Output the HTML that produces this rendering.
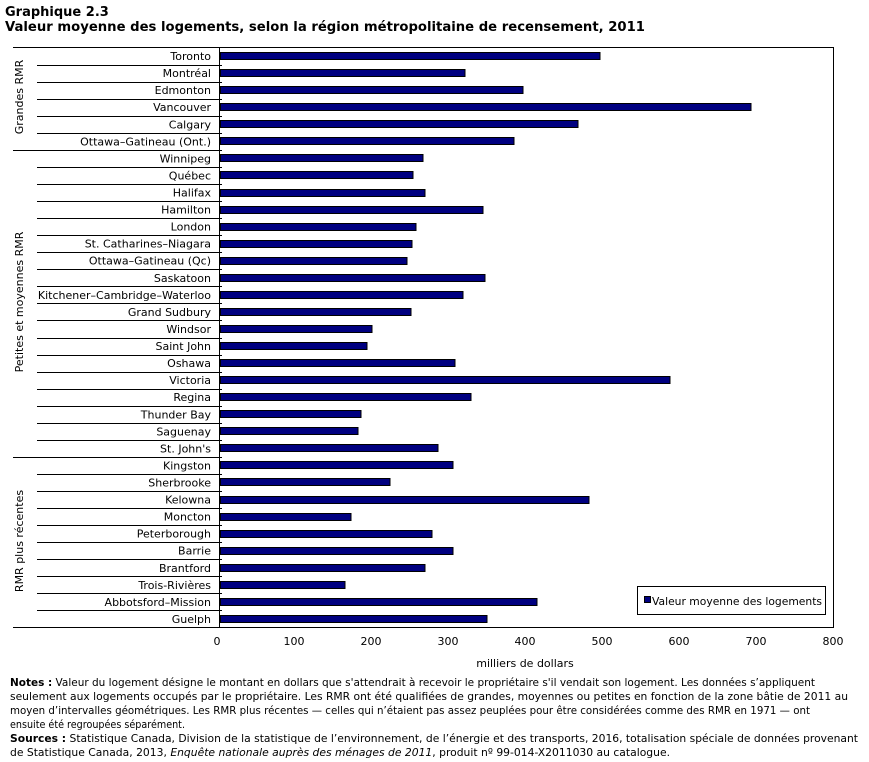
<!DOCTYPE html>
<html><head><meta charset="utf-8"><style>
html,body{margin:0;padding:0;background:#fff;}
svg{display:block;font-family:"DejaVu Sans","Liberation Sans",sans-serif;}
</style></head><body>
<svg width="869" height="762" viewBox="0 0 869 762" xmlns="http://www.w3.org/2000/svg">
<text x="5" y="16" font-size="13" font-weight="bold" fill="#000">Graphique  2.3</text>
<text x="5" y="31" font-size="13" font-weight="bold" fill="#000" textLength="640" lengthAdjust="spacingAndGlyphs">Valeur moyenne des logements, selon la région  métropolitaine  de recensement, 2011</text>
<g stroke="#000" stroke-width="1" fill="none">
<rect x="219.5" y="47.5" width="614" height="580"/>
<line x1="13" y1="47.5" x2="219" y2="47.5"/>
<line x1="13" y1="627.5" x2="219" y2="627.5"/>
<line x1="13" y1="150.5" x2="222" y2="150.5"/>
<line x1="13" y1="457.5" x2="222" y2="457.5"/>
</g>
<g id="rows" stroke="#000" stroke-width="1"></g>
<g id="bars"></g>
<g id="labels" font-size="11" text-anchor="end" fill="#000"></g>
<g font-size="11" fill="#000" text-anchor="middle">
<text transform="translate(23,97) rotate(-90)">Grandes RMR</text>
<text transform="translate(23,302) rotate(-90)">Petites et moyennes RMR</text>
<text transform="translate(23,541) rotate(-90)">RMR plus récentes</text>
<text x="217" y="645">0</text><text x="294" y="645">100</text><text x="371" y="645">200</text><text x="448" y="645">300</text><text x="525" y="645">400</text><text x="602" y="645">500</text><text x="679" y="645">600</text><text x="756" y="645">700</text><text x="833" y="645">800</text>
<text x="525" y="667">milliers de dollars</text>
</g>
<rect x="637.5" y="586.5" width="188" height="28" fill="#fff" stroke="#000"/>
<rect x="644.5" y="596.5" width="6" height="6" fill="#000080" stroke="#000"/>
<text x="652" y="605" font-size="11" fill="#000" textLength="170" lengthAdjust="spacingAndGlyphs">Valeur moyenne des logements</text>
<g font-size="11" fill="#000">
<text x="10" y="686" textLength="805" lengthAdjust="spacingAndGlyphs"><tspan font-weight="bold">Notes :</tspan> Valeur du logement désigne le montant en dollars que s'attendrait à recevoir le propriétaire s'il vendait son logement. Les données s’appliquent</text>
<text x="10" y="700" textLength="838" lengthAdjust="spacingAndGlyphs">seulement aux logements occupés par le propriétaire. Les RMR ont été qualifiées de grandes, moyennes ou petites en fonction de la zone bâtie de 2011 au</text>
<text x="10" y="714" textLength="800" lengthAdjust="spacingAndGlyphs">moyen d’intervalles géométriques. Les RMR plus récentes — celles qui n’étaient pas assez peuplées pour être considérées comme des RMR en 1971 — ont</text>
<text x="10" y="728" textLength="175" lengthAdjust="spacingAndGlyphs">ensuite été regroupées séparément.</text>
<text x="10" y="742" textLength="848" lengthAdjust="spacingAndGlyphs"><tspan font-weight="bold">Sources :</tspan> Statistique Canada, Division de la statistique de l’environnement, de l’énergie et des transports, 2016, totalisation spéciale de données provenant</text>
<text x="10" y="756" textLength="660" lengthAdjust="spacingAndGlyphs">de Statistique Canada, 2013, <tspan font-style="italic">Enquête nationale auprès des ménages de 2011</tspan>, produit nº 99-014-X2011030 au catalogue.</text>
</g>
<script>
var d=[["Toronto",600],["Montréal",465],["Edmonton",523],["Vancouver",751],["Calgary",578],["Ottawa–Gatineau (Ont.)",514],["Winnipeg",423],["Québec",413],["Halifax",425],["Hamilton",483],["London",416],["St. Catharines–Niagara",412],["Ottawa–Gatineau (Qc)",407],["Saskatoon",485],["Kitchener–Cambridge–Waterloo",463],["Grand Sudbury",411],["Windsor",372],["Saint John",367],["Oshawa",455],["Victoria",670],["Regina",471],["Thunder Bay",361],["Saguenay",358],["St. John's",438],["Kingston",453],["Sherbrooke",390],["Kelowna",589],["Moncton",351],["Peterborough",432],["Barrie",453],["Brantford",425],["Trois-Rivières",345],["Abbotsford–Mission",537],["Guelph",487]];
var NS="http://www.w3.org/2000/svg",h=580/34;
var R=document.getElementById("rows"),B=document.getElementById("bars"),L=document.getElementById("labels");
d.forEach(function(r,i){
 var top=47.5+i*h,c=top+h/2;
 if(i>0&&i!=6&&i!=24){var l=document.createElementNS(NS,"line");l.setAttribute("x1",37);l.setAttribute("x2",222);var y=Math.round(top)+0.5;l.setAttribute("y1",y);l.setAttribute("y2",y);R.appendChild(l);}
 var b=document.createElementNS(NS,"rect");b.setAttribute("x",220.5);b.setAttribute("y",Math.round(c-4)+0.5);b.setAttribute("width",r[1]-220.5);b.setAttribute("height",7);b.setAttribute("fill","#000080");b.setAttribute("stroke","#000");b.setAttribute("stroke-width","1");B.appendChild(b);
 var t=document.createElementNS(NS,"text");t.setAttribute("x",211);t.setAttribute("y",c+4);t.textContent=r[0];L.appendChild(t);
});
</script>
</svg>
</body></html>
